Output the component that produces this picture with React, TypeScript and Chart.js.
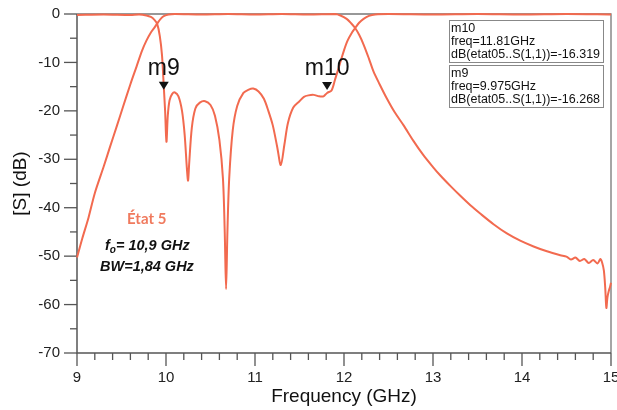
import React, { useEffect, useRef } from "react";
import { Chart, registerables } from "chart.js";

Chart.register(...registerables);

// ---- Data ----
const s21Freq = [
  9.0, 9.06, 9.13, 9.2, 9.3, 9.37, 9.45, 9.52, 9.6, 9.67, 9.73, 9.78, 9.83, 9.87, 9.9, 9.94, 9.98, 10.03, 10.1,
  10.4, 10.7, 11.0, 11.3, 11.6, 11.9, 11.96, 12.03, 12.08, 12.125, 12.17, 12.22, 12.28, 12.33, 12.4, 12.48, 12.57,
  12.67, 12.78, 12.89, 13.0, 13.08, 13.2, 13.31, 13.42, 13.53, 13.68, 13.83, 13.98, 14.13, 14.28, 14.43, 14.5,
  14.55, 14.6, 14.65, 14.7, 14.75, 14.8, 14.85, 14.88, 14.9, 14.92, 14.935, 14.948, 14.96, 14.975, 14.99, 15.0,
];
const s21Db = [
  -50.3, -46.3, -42.0, -37.0, -31.5, -27.5, -23.0, -19.0, -14.5, -10.8, -7.6, -5.5, -3.8, -2.8, -2.0, -1.0, -0.4, -0.1, 0,
  -0.1, 0, -0.1, 0, -0.1, 0, -0.3, -1.0, -1.9, -2.9, -4.3, -6.3, -9.2, -11.8, -14.5, -17.4, -20.3,
  -23.0, -26.2, -29.1, -31.6, -33.3, -35.6, -37.6, -39.5, -41.2, -43.4, -45.3, -46.8, -48.0, -49.0, -49.8, -50.1,
  -50.7, -50.3, -51.0, -50.6, -51.4, -50.8, -51.5, -50.6, -51.3, -53.0, -56.5, -60.7, -58.5, -57.2, -56.3, -55.5,
];

const s11Freq = [
  9.0, 9.3, 9.6, 9.7, 9.78, 9.83, 9.87, 9.9, 9.93, 9.955, 9.975, 9.99, 10.005, 10.02, 10.04, 10.07, 10.1, 10.14,
  10.18, 10.21, 10.235, 10.248, 10.26, 10.29, 10.33, 10.38, 10.44, 10.5, 10.55, 10.6, 10.64, 10.66, 10.675, 10.69,
  10.71, 10.75, 10.8, 10.87, 10.93, 10.98, 11.04, 11.1, 11.15, 11.2, 11.25, 11.29, 11.33, 11.37, 11.43, 11.5, 11.55,
  11.6, 11.66, 11.72, 11.77, 11.81, 11.86, 11.9, 11.95, 12.0, 12.04, 12.09, 12.125, 12.17, 12.22, 12.28, 12.35,
  12.5, 13.0, 13.5, 14.0, 14.5, 15.0,
];
const s11Db = [
  -0.2, -0.1, -0.2, -0.1, -0.3, -0.6, -1.2, -2.0, -4.5, -8.5, -15.0, -20.0, -26.4, -21.0, -17.8, -16.5, -16.2, -17.0,
  -20.0, -25.0, -32.0, -34.4, -31.0, -23.5, -19.5, -18.3, -18.0, -18.8, -21.0, -26.0, -34.0, -45.0, -56.8, -45.0,
  -34.0, -24.0, -19.0, -16.3, -15.6, -15.4, -16.0, -17.5, -20.0, -23.0, -27.5, -31.2, -27.0, -22.5, -19.3, -18.0, -17.1,
  -16.8, -16.7, -17.0, -17.0, -16.3, -15.8, -13.5, -10.5, -7.5, -5.5, -3.8, -2.9, -1.8, -1.0, -0.4, -0.1,
  0, -0.1, 0, -0.1, 0, -0.1,
];

const markerNames = ["m9", "m10"];
const markerFreqs = [9.975, 11.81];
const markerValues = [-16.268, -16.319];

const boxLines = [
  ["m10", "freq=11.81GHz", "dB(etat05..S(1,1))=-16.319"],
  ["m9", "freq=9.975GHz", "dB(etat05..S(1,1))=-16.268"],
];

const xMin = 9;
const xMax = 15;
const yMin = -70;
const yMax = 0;

const LINE = "#f26a4f";
const AXIS = "#555555";

const decorPlugin = {
  id: "decor",
  beforeDatasetsDraw(chart: any) {
    const { ctx, chartArea } = chart;
    const xs = chart.scales.x;
    const ys = chart.scales.y;
    const { left, right, top, bottom } = chartArea;
    ctx.save();
    // top & right frame
    ctx.strokeStyle = "#777";
    ctx.lineWidth = 1.3;
    ctx.beginPath();
    ctx.moveTo(left, top);
    ctx.lineTo(right, top);
    ctx.lineTo(right, bottom);
    ctx.stroke();
    // left & bottom axes
    ctx.strokeStyle = AXIS;
    ctx.lineWidth = 1.5;
    ctx.beginPath();
    ctx.moveTo(left, top);
    ctx.lineTo(left, bottom);
    ctx.lineTo(right, bottom);
    ctx.stroke();
    // y ticks: major every 10, minor every 5
    ctx.lineWidth = 1.3;
    for (let v = yMax; v >= yMin; v -= 5) {
      const y = ys.getPixelForValue(v);
      const len = v % 10 === 0 ? 13 : 7;
      ctx.beginPath();
      ctx.moveTo(left - len, y);
      ctx.lineTo(left, y);
      ctx.stroke();
    }
    // x ticks: major every 1, minor every 0.2
    for (let i = 0; i <= (xMax - xMin) * 5; i++) {
      const v = xMin + i * 0.2;
      const x = xs.getPixelForValue(v);
      const len = i % 5 === 0 ? 13 : 7;
      ctx.beginPath();
      ctx.moveTo(x, bottom);
      ctx.lineTo(x, bottom + len);
      ctx.stroke();
    }
    ctx.restore();
  },
  afterDatasetsDraw(chart: any) {
    const { ctx } = chart;
    const xs = chart.scales.x;
    const ys = chart.scales.y;
    ctx.save();
    // markers
    for (let i = 0; i < markerNames.length; i++) {
      const x = xs.getPixelForValue(markerFreqs[i]);
      const y = ys.getPixelForValue(markerValues[i]);
      const tip = y - 3;
      ctx.fillStyle = "#111";
      ctx.beginPath();
      ctx.moveTo(x, tip);
      ctx.lineTo(x - 5, tip - 8);
      ctx.lineTo(x + 5, tip - 8);
      ctx.closePath();
      ctx.fill();
      ctx.font = "23px 'Liberation Sans', Arial, sans-serif";
      ctx.textAlign = "center";
      ctx.textBaseline = "alphabetic";
      ctx.fillStyle = "#111";
      ctx.fillText(markerNames[i], x, y - 18);
    }
    // marker boxes
    const boxX = 449.5;
    const boxW = 154;
    const boxTops = [20.5, 65.5];
    const boxH = 42;
    ctx.font = "12.5px 'Liberation Sans', Arial, sans-serif";
    ctx.textAlign = "left";
    ctx.textBaseline = "alphabetic";
    for (let b = 0; b < boxLines.length; b++) {
      ctx.fillStyle = "#fff";
      ctx.fillRect(boxX, boxTops[b], boxW, boxH);
      ctx.strokeStyle = "#888";
      ctx.lineWidth = 1;
      ctx.strokeRect(boxX, boxTops[b], boxW, boxH);
      ctx.fillStyle = "#111";
      for (let l = 0; l < boxLines[b].length; l++) {
        ctx.fillText(boxLines[b][l], boxX + 1.5, boxTops[b] + 11 + l * 13);
      }
    }
    // annotations
    ctx.textAlign = "left";
    ctx.fillStyle = "#f07a5e";
    ctx.font = "bold 15px Lato, 'Open Sans', sans-serif";
    ctx.fillText("État 5", 127, 224);
    ctx.fillStyle = "#111";
    ctx.font = "italic bold 14.5px 'Liberation Sans', Arial, sans-serif";
    let fx = 105;
    ctx.fillText("f", fx, 250);
    fx += ctx.measureText("f").width;
    ctx.font = "italic bold 10px 'Liberation Sans', Arial, sans-serif";
    ctx.fillText("o", fx, 253);
    fx += ctx.measureText("o").width;
    ctx.font = "italic bold 14.5px 'Liberation Sans', Arial, sans-serif";
    ctx.fillText("= 10,9 GHz", fx, 250);
    ctx.fillText("BW=1,84 GHz", 100, 271);
    ctx.restore();
  },
};

export default function App() {
  const ref = useRef<HTMLCanvasElement | null>(null);
  useEffect(() => {
    document.body.style.margin = "0";
    const canvas = ref.current;
    if (!canvas) return;
    const chart = new Chart(canvas, {
      type: "line",
      data: {
        datasets: [
          {
            label: "S21",
            data: s21Freq.map((f, i) => ({ x: f, y: s21Db[i] })),
            borderColor: LINE,
            borderWidth: 2,
            pointRadius: 0,
            tension: 0.3,
            clip: false as any,
          },
          {
            label: "S11",
            data: s11Freq.map((f, i) => ({ x: f, y: s11Db[i] })),
            borderColor: LINE,
            borderWidth: 2,
            pointRadius: 0,
            tension: 0.3,
            clip: false as any,
          },
        ],
      },
      options: {
        responsive: false,
        animation: false,
        layout: { padding: { top: 14, right: 6, left: 0, bottom: 0 } },
        plugins: { legend: { display: false }, tooltip: { enabled: false } },
        scales: {
          x: {
            type: "linear",
            min: xMin,
            max: xMax,
            grid: { display: false, drawTicks: false },
            border: { display: false },
            ticks: {
              stepSize: 1,
              padding: 16,
              maxRotation: 0,
              color: "#222",
              font: { family: "'Liberation Sans', Arial, sans-serif", size: 15 },
            },
            title: {
              display: true,
              text: "Frequency (GHz)",
              color: "#111",
              padding: { top: 0, bottom: 2 },
              font: { family: "'Liberation Sans', Arial, sans-serif", size: 19 },
            },
            afterFit: (s: any) => {
              s.height = 57;
              s.paddingLeft = 0;
              s.paddingRight = 0;
            },
          },
          y: {
            type: "linear",
            min: yMin,
            max: yMax,
            grid: { display: false, drawTicks: false },
            border: { display: false },
            ticks: {
              stepSize: 10,
              padding: 17,
              color: "#222",
              font: { family: "'Liberation Sans', Arial, sans-serif", size: 15 },
            },
            title: {
              display: true,
              text: "[S] (dB)",
              color: "#111",
              padding: { top: 9, bottom: 0 },
              font: { family: "'Liberation Sans', Arial, sans-serif", size: 19 },
            },
            afterFit: (s: any) => {
              s.width = 77;
              s.paddingTop = 0;
              s.paddingBottom = 0;
            },
          },
        },
      },
      plugins: [decorPlugin],
    });
    return () => chart.destroy();
  }, []);
  return <canvas ref={ref} width={617} height={410} style={{ display: "block" }} />;
}
